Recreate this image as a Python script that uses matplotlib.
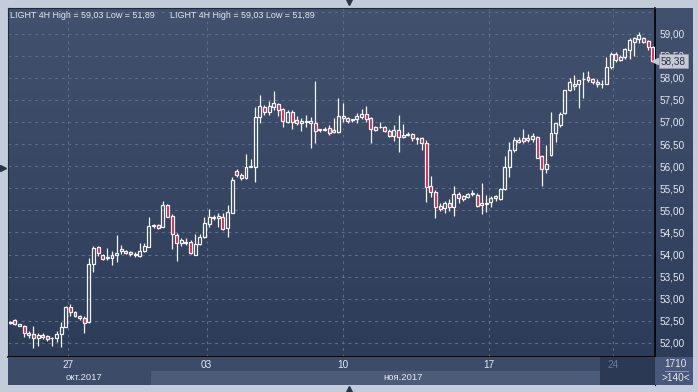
import numpy as np
import matplotlib
matplotlib.use("Agg")
import matplotlib.pyplot as plt
from matplotlib.lines import Line2D
from matplotlib.colors import LinearSegmentedColormap

# =========================================================
# DATA  (LIGHT, 4H bars)
# =========================================================

opens = [52.44, 52.51, 52.39, 52.38, 52.22, 52.20, 52.11, 52.18, 52.16, 52.11,
         52.11, 52.20, 52.36, 52.81, 52.69, 52.61, 52.57, 52.48, 53.79, 54.16,
         54.00, 53.92, 53.92, 53.98, 54.07, 54.09, 54.06, 54.00, 53.97, 54.07,
         54.18, 54.65, 54.66, 54.63, 55.12, 54.88, 54.44, 54.25, 54.27, 54.29,
         53.99, 54.24, 54.39, 54.69, 54.82, 54.83, 54.84, 54.59, 54.95, 55.90,
         55.79, 55.73, 55.99, 55.99, 57.12, 57.35, 57.23, 57.35, 57.41, 57.29,
         57.01, 57.23, 57.05, 56.97, 57.01, 57.02, 56.97, 56.81, 56.82, 56.87,
         56.78, 56.78, 57.14, 57.08, 57.05, 57.06, 57.11, 57.18, 57.08, 56.82,
         56.88, 56.89, 56.80, 56.68, 56.82, 56.65, 56.71, 56.73, 56.61, 56.63,
         56.53, 55.54, 55.42, 55.10, 55.05, 55.16, 55.08, 55.36, 55.25, 55.30,
         55.37, 55.35, 55.16, 55.15, 55.18, 55.27, 55.26, 55.48, 55.99, 56.37,
         56.59, 56.63, 56.59, 56.62, 56.67, 56.22, 55.94, 56.25, 56.74, 56.93,
         57.20, 57.72, 57.87, 57.85, 57.97, 58.01, 57.97, 57.91, 57.86, 57.86,
         58.25, 58.55, 58.41, 58.46, 58.63, 58.82, 58.88, 58.89, 58.83, 58.70]
highs = [52.50, 52.53, 52.43, 52.40, 52.26, 52.39, 52.22, 52.22, 52.18, 52.14,
         52.26, 52.48, 52.84, 52.88, 52.71, 52.63, 52.61, 53.92, 54.19, 54.19,
         54.01, 54.14, 54.09, 54.44, 54.21, 54.11, 54.07, 54.06, 54.25, 54.25,
         54.84, 54.69, 54.69, 55.22, 55.14, 54.91, 54.48, 54.37, 54.37, 54.33,
         54.47, 54.47, 54.86, 55.02, 54.90, 54.95, 54.95, 55.12, 55.75, 55.93,
         55.84, 56.28, 56.16, 57.33, 57.61, 57.38, 57.48, 57.69, 57.44, 57.31,
         57.26, 57.26, 57.14, 57.08, 57.16, 57.12, 57.93, 56.83, 56.89, 56.93,
         57.08, 57.54, 57.44, 57.11, 57.06, 57.20, 57.29, 57.36, 57.11, 56.91,
         57.01, 56.91, 56.83, 56.93, 57.16, 56.95, 56.78, 56.76, 56.65, 56.65,
         56.59, 55.78, 55.45, 55.16, 55.22, 55.25, 55.55, 55.42, 55.35, 55.40,
         55.46, 55.39, 55.61, 55.35, 55.32, 55.35, 55.50, 56.22, 56.54, 56.67,
         56.67, 56.84, 56.72, 56.76, 56.68, 56.25, 56.48, 57.22, 56.97, 57.22,
         57.72, 57.99, 58.07, 57.95, 58.14, 58.15, 58.00, 57.97, 57.95, 58.46,
         58.58, 58.58, 58.52, 58.68, 58.89, 58.93, 59.03, 58.93, 58.86, 58.73]
lows = [52.42, 52.41, 52.38, 52.14, 52.11, 51.89, 51.92, 52.08, 52.05, 51.93,
        52.01, 51.90, 52.35, 52.61, 52.58, 52.52, 52.23, 52.46, 53.61, 53.97,
        53.88, 53.88, 53.76, 53.82, 54.01, 54.01, 53.97, 53.94, 53.94, 54.05,
        54.17, 54.59, 54.57, 54.62, 54.84, 54.12, 53.86, 54.19, 54.22, 54.01,
        53.98, 54.22, 54.37, 54.63, 54.78, 54.63, 54.56, 54.39, 54.94, 55.76,
        55.69, 55.71, 55.97, 55.65, 56.98, 57.16, 57.16, 57.27, 57.14, 56.89,
        56.98, 56.83, 56.93, 56.80, 56.89, 56.42, 56.52, 56.78, 56.80, 56.71,
        56.74, 56.76, 57.01, 56.98, 57.00, 56.98, 57.06, 57.01, 56.53, 56.80,
        56.86, 56.78, 56.65, 56.58, 56.31, 56.63, 56.68, 56.58, 56.50, 56.37,
        55.18, 55.30, 54.82, 54.99, 54.93, 54.99, 54.87, 55.17, 55.22, 55.27,
        55.33, 55.08, 54.92, 54.97, 55.08, 55.22, 55.24, 55.46, 55.76, 56.31,
        56.52, 56.52, 56.54, 56.54, 56.18, 55.56, 55.84, 56.24, 56.55, 56.89,
        57.19, 57.69, 57.72, 57.32, 57.55, 57.91, 57.85, 57.80, 57.76, 57.85,
        58.21, 58.36, 58.38, 58.43, 58.43, 58.50, 58.78, 58.78, 58.63, 58.35]
closes = [52.48, 52.42, 52.42, 52.22, 52.17, 52.10, 52.17, 52.14, 52.08, 52.12,
          52.20, 52.37, 52.82, 52.69, 52.60, 52.57, 52.46, 53.79, 54.14, 54.03,
          53.89, 53.94, 53.98, 54.04, 54.12, 54.04, 54.01, 54.01, 54.09, 54.19,
          54.65, 54.67, 54.61, 55.12, 54.86, 54.46, 54.25, 54.33, 54.29, 54.03,
          54.24, 54.39, 54.72, 54.84, 54.86, 54.87, 54.57, 54.96, 55.69, 55.81,
          55.74, 55.97, 56.00, 57.11, 57.36, 57.23, 57.36, 57.44, 57.27, 57.03,
          57.23, 57.01, 56.98, 57.02, 57.02, 56.97, 56.80, 56.83, 56.85, 56.76,
          56.82, 57.14, 57.08, 57.03, 57.06, 57.14, 57.18, 57.06, 56.83, 56.89,
          56.89, 56.80, 56.68, 56.82, 56.65, 56.70, 56.73, 56.63, 56.63, 56.52,
          55.52, 55.42, 55.08, 55.02, 55.16, 55.07, 55.36, 55.27, 55.33, 55.37,
          55.39, 55.10, 55.12, 55.17, 55.27, 55.32, 55.48, 55.99, 56.37, 56.59,
          56.54, 56.58, 56.63, 56.68, 56.19, 55.94, 56.06, 56.74, 56.97, 57.17,
          57.72, 57.90, 57.82, 57.95, 57.98, 57.95, 57.90, 57.85, 57.87, 58.25,
          58.53, 58.40, 58.48, 58.65, 58.86, 58.91, 58.98, 58.82, 58.70, 58.38]

# day labels and where they sit (bar index)
day_labels = ["27", "03", "10", "17", "24"]
day_pos = [12.5, 42.5, 72.0, 103.5, 130.5]
month_labels = ["окт.2017", "ноя.2017"]
month_start = 30.5      # 1 Nov
price_ticks = [52.0, 52.5, 53.0, 53.5, 54.0, 54.5, 55.0, 55.5,
               56.0, 56.5, 57.0, 57.5, 58.0, 58.5, 59.0, 59.5]
last_price = 58.38
bar_count = ">140<"
counter = "1710"
title = "LIGHT 4H High = 59,03 Low = 51,89"

# =========================================================
# STYLE
# =========================================================

W, H = 698, 392
FRAME = "#c3ccd8"
RED = "#e1173d"
WHITE = "#f4f6fa"
GRID = "#5d6d8b"
LABEL = "#e4e9f2"
plt.rcParams["font.family"] = ["Liberation Sans", "DejaVu Sans"]


def px(x0, y0, x1, y1):
    # pixel box (top-left origin) -> figure fraction
    return [x0 / W, 1 - y1 / H, (x1 - x0) / W, (y1 - y0) / H]


fig = plt.figure(figsize=(W / 100, H / 100), dpi=100, facecolor=FRAME)

# background panel with vertical gradient
bg = fig.add_axes(px(8, 8, 693, 385))
grad = np.linspace(0, 1, 256).reshape(-1, 1)
cmap = LinearSegmentedColormap.from_list("panel", ["#2b3a57", "#42516d"])
bg.imshow(grad, aspect="auto", cmap=cmap, origin="lower", extent=[0, 1, 0, 1])
bg.set_axis_off()

# =========================================================
# CANDLES
# =========================================================

ax = fig.add_axes(px(8, 8, 655, 357))
ax.set_facecolor("none")

x = np.arange(len(opens))
o = np.array(opens)
h = np.array(highs)
l = np.array(lows)
c = np.array(closes)
up = c >= o
top = np.maximum(o, c)
bot = np.minimum(o, c)

ax.vlines(x, top, h, color=WHITE, lw=0.9, zorder=3)
ax.vlines(x, l, bot, color=WHITE, lw=0.9, zorder=3)
ax.bar(x[up], (top - bot)[up], bottom=bot[up], width=0.64,
       facecolor="none", edgecolor=WHITE, lw=0.9, zorder=4)
ax.bar(x[~up], (top - bot)[~up], bottom=bot[~up], width=0.64,
       facecolor=RED, edgecolor=WHITE, lw=0.9, zorder=4)

ax.set_xlim(-0.5, len(opens) - 0.5)
ax.set_ylim(51.68, 59.58)

# grid
for p in price_ticks:
    ax.axhline(p, color=GRID, lw=0.8, ls=(0, (2.5, 3.5)), zorder=1)
for d in day_pos:
    ax.axvline(d, color=GRID, lw=0.8, ls=(0, (2.5, 3.5)), zorder=1)

# right price axis
ax.yaxis.tick_right()
ax.set_yticks(price_ticks)
ax.set_yticklabels([f"{p:.2f}".replace(".", ",") if p < 59.5 else ""
                    for p in price_ticks])
ax.tick_params(axis="y", length=0, pad=3, labelcolor=LABEL, labelsize=7.2)
ax.set_xticks([])
for s in ["left", "top"]:
    ax.spines[s].set_color("#1e2a40")
for s in ["right", "bottom"]:
    ax.spines[s].set_color("black")
    ax.spines[s].set_linewidth(1.2)

fig.text(10 / W, 1 - 15 / H, title, color=LABEL, fontsize=6.4,
         va="center", ha="left")
fig.text(170 / W, 1 - 15 / H, title, color=LABEL, fontsize=6.4,
         va="center", ha="left")

# last price marker (sits over the 58,50 label, as in the terminal)
ax.annotate(f"{last_price:.2f}".replace(".", ","), xy=(1.0, last_price),
            xycoords=("axes fraction", "data"), xytext=(6, 0),
            textcoords="offset pixels", color="#26314a", fontsize=7.2,
            va="center", ha="left", annotation_clip=False, zorder=6,
            bbox=dict(boxstyle="square,pad=0.2", fc="#c6cad3", ec="#9aa2b2", lw=0.5))
ax.plot([1.0], [last_price], marker="<", ms=5, color="#c6cad3",
        transform=ax.get_yaxis_transform(), clip_on=False, zorder=6)

# =========================================================
# DATE STRIP
# =========================================================

strip = fig.add_axes(px(8, 357, 655, 385), sharex=ax)
strip.set_facecolor("#3c4b68")
strip.set_ylim(0, 2)
strip.axvspan(month_start, 127.6, ymin=0, ymax=0.5, color="#4c5b78", lw=0)
strip.axvspan(127.6, len(opens) - 0.5, color="#2b3954", lw=0)
for d, lab in zip(day_pos, day_labels):
    col = "#6b7895" if d > 127.6 else LABEL
    strip.text(d, 1.45, lab, color=col, fontsize=7.2, ha="center", va="center")
strip.text(12.0, 0.5, month_labels[0], color=LABEL, fontsize=6.8,
           ha="left", va="center")
strip.text(85.0, 0.5, month_labels[1], color=LABEL, fontsize=6.8,
           ha="center", va="center")
strip.set_xticks([])
strip.set_yticks([])
for s in strip.spines.values():
    s.set_visible(False)
strip.spines["right"].set_visible(True)
strip.spines["right"].set_color("black")

# bottom-right counter box
box = fig.add_axes(px(655, 357, 693, 385))
box.set_facecolor("#48577a")
box.set_xlim(0, 1)
box.set_ylim(0, 1)
box.text(0.55, 0.74, counter, color=LABEL, fontsize=7.2, ha="center", va="center")
box.plot([0.25, 0.88], [0.5, 0.5], color="#9aa6bd", lw=0.6)
box.text(0.55, 0.26, bar_count, color=LABEL, fontsize=7.2, ha="center", va="center")
box.set_xticks([])
box.set_yticks([])
for s in box.spines.values():
    s.set_visible(False)

# little scroll arrows in the frame
fig.add_artist(Line2D([349 / W], [1 - 2 / H], marker="v", ms=5, color="#2a3447"))
fig.add_artist(Line2D([349 / W], [1 - 389 / H], marker="^", ms=5, color="#2a3447"))
fig.add_artist(Line2D([3 / W], [1 - 168 / H], marker=">", ms=5, color="#2a3447"))

fig.savefig("out.png", dpi=100, facecolor=FRAME)
